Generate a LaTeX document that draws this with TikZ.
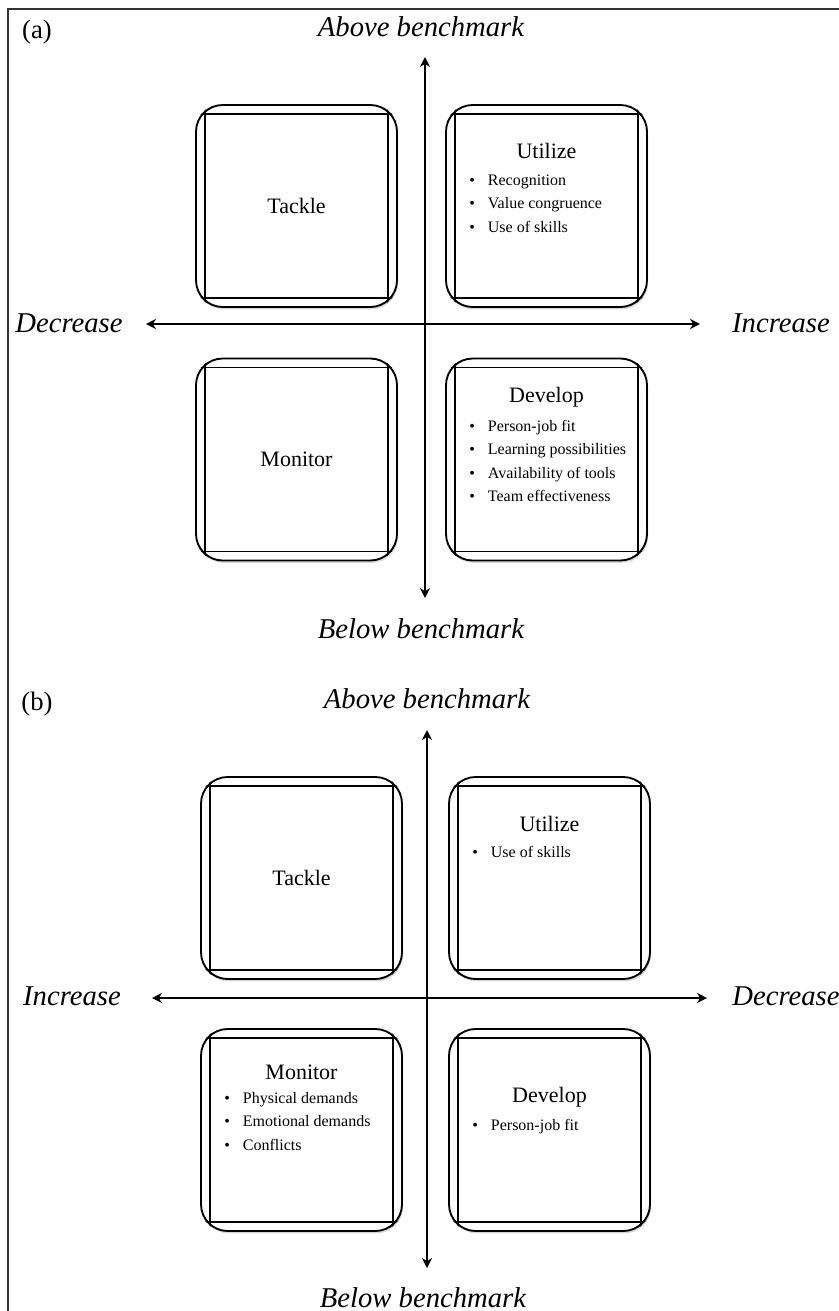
\documentclass[tikz,border=0pt]{standalone}
\usepackage{fontspec}
\setmainfont{Liberation Serif}
\usepackage{tikz}
\usetikzlibrary{shadows,arrows.meta}

\tikzset{
  quad/.style={draw, line width=1.4pt, rounded corners=20pt, fill=white,
    minimum width=150.75pt, minimum height=151.5pt,
    drop shadow={opacity=0.3, shadow xshift=0.8pt, shadow yshift=-1.8pt}},
  inner/.style={line width=1.2pt},
  title/.style={font=\fontsize{16.5}{20}\selectfont},
  item/.style={font=\fontsize{12}{14}\selectfont, anchor=west, inner sep=0pt,
    text height=8.5pt, text depth=2.5pt},
  axislabel/.style={font=\fontsize{21.5}{26}\selectfont\itshape, anchor=base},
  panel/.style={font=\fontsize{20}{24}\selectfont, anchor=base},
  axis/.style={line width=2pt, {Stealth[length=7.5pt,width=7.5pt]}-{Stealth[length=7.5pt,width=7.5pt]}},
}
\newcommand{\bul}[1]{\makebox[14pt][l]{\textbullet}#1}

\begin{document}
\begin{tikzpicture}[x=0.75pt, y=-0.75pt]
    \useasboundingbox (0,0) rectangle (839,1311);
    % frame
    \draw[line width=1.3pt, black!80] (8,9) rectangle (860,1340);

    % ---------- (a) ----------
    \node[panel] (labA) at (37,38) {(a)};
    \node[axislabel] (aboveA) at (421,36) {Above benchmark};
    \node[axislabel] (belowA) at (421,638) {Below benchmark};
    \node[axislabel] (decA) at (69,332) {Decrease};
    \node[axislabel] (incA) at (781,332) {Increase};

    \coordinate (topA) at (425,57);
    \coordinate (botA) at (425,598);
    \coordinate (leftA) at (146,324);
    \coordinate (rightA) at (700,324);
    \draw[axis] (topA) -- (botA);
    \draw[axis] (leftA) -- (rightA);

    \node[quad] (tackleA) at (296.5,206) {};
    \node[quad] (utilA) at (546.5,206) {};
    \node[quad] (monA) at (296.5,459.5) {};
    \node[quad] (devA) at (546.5,459.5) {};

    % ---------- (b) ----------
    \node[panel] (labB) at (37,710) {(b)};
    \node[axislabel] (aboveB) at (427,708) {Above benchmark};
    \node[axislabel] (belowB) at (423,1307) {Below benchmark};
    \node[axislabel] (incB) at (72,1005) {Increase};
    \node[axislabel] (decB) at (786,1005) {Decrease};

    \coordinate (topB) at (427,730);
    \coordinate (botB) at (427,1268);
    \coordinate (leftB) at (152,998);
    \coordinate (rightB) at (707,998);
    \draw[axis] (topB) -- (botB);
    \draw[axis] (leftB) -- (rightB);

    \node[quad] (tackleB) at (301.5,878) {};
    \node[quad] (utilB) at (549.5,878) {};
    \node[quad] (monB) at (301.5,1130) {};
    \node[quad] (devB) at (549.5,1130) {};

    % inner square lines of every box
    \foreach \b in {tackleA,utilA,monA,devA,tackleB,utilB,monB,devB} {
      \begin{scope}
        \clip[rounded corners=20pt] (\b.north west) rectangle (\b.south east);
        \draw[inner] ([yshift=-7.5pt]\b.north west) -- ([yshift=-7.5pt]\b.north east);
        \draw[inner] ([yshift=7.5pt]\b.south west) -- ([yshift=7.5pt]\b.south east);
        \draw[inner] ([xshift=7.5pt]\b.north west) -- ([xshift=7.5pt]\b.south west);
        \draw[inner] ([xshift=-7.5pt]\b.north east) -- ([xshift=-7.5pt]\b.south east);
      \end{scope}
    }

    % text (a)
    \node[title] (tTackleA) at (tackleA) {Tackle};
    \node[title] (tMonA) at (monA) {Monitor};
    \node[title] (tUtilA) at (546.5,151) {Utilize};
    \foreach \t [count=\i] in {Recognition, Value congruence, Use of skills}
      \node[item] (utilA-\i) at (469,{181+23.6*(\i-1)}) {\bul{\t}};
    \node[title] (tDevA) at (546.5,397) {Develop};
    \foreach \t [count=\i] in {Person-job fit, Learning possibilities, Availability of tools, Team effectiveness}
      \node[item] (devA-\i) at (469,{427+23.6*(\i-1)}) {\bul{\t}};

    % text (b)
    \node[title] (tTackleB) at (tackleB) {Tackle};
    \node[title] (tUtilB) at (549.5,824) {Utilize};
    \node[item] (utilB-1) at (472,853) {\bul{Use of skills}};
    \node[title] (tMonB) at (301.5,1072) {Monitor};
    \foreach \t [count=\i] in {Physical demands, Emotional demands, Conflicts}
      \node[item] (monB-\i) at (224,{1099+23.8*(\i-1)}) {\bul{\t}};
    \node[title] (tDevB) at (549.5,1097) {Develop};
    \node[item] (devB-1) at (472,1126) {\bul{Person-job fit}};
\end{tikzpicture}
\end{document}
